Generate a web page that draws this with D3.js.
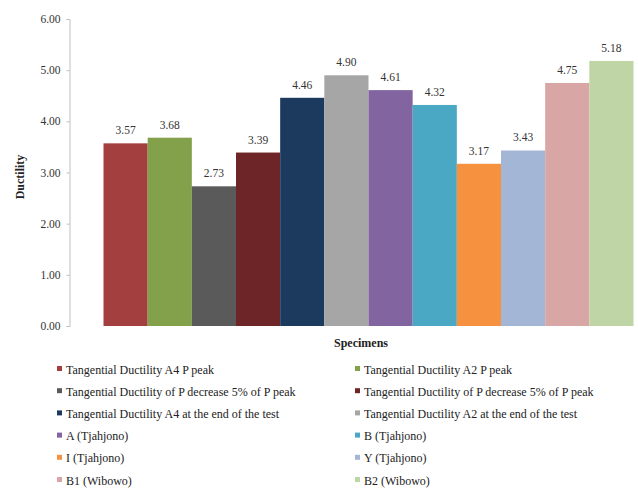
<!DOCTYPE html>
<html>
<head>
<meta charset="utf-8">
<script src="https://cdn.jsdelivr.net/npm/d3@7"></script>
</head>
<body style="margin:0">
<svg id="chart" width="638" height="491" style="display:block;background:#ffffff"></svg>
<script>
// Ductility per specimen
const specimens = [
  "Tangential Ductility A4 P peak",
  "Tangential Ductility A2 P peak",
  "Tangential Ductility of P decrease 5% of P peak",
  "Tangential Ductility of P decrease 5% of P peak ",
  "Tangential Ductility A4 at the end of the test",
  "Tangential Ductility A2 at the end of the test",
  "A (Tjahjono)",
  "B (Tjahjono)",
  "I (Tjahjono)",
  "Y (Tjahjono)",
  "B1 (Wibowo)",
  "B2 (Wibowo)"
];
const ductility = [3.57, 3.68, 2.73, 3.39, 4.46, 4.90, 4.61, 4.32, 3.17, 3.43, 4.75, 5.18];
const colors = [
  "#A3403F", "#82A14A", "#5A5A5A", "#6E2527", "#1C3A5E", "#A6A6A6",
  "#8264A0", "#4AA8C4", "#F6913F", "#A3B6D6", "#D9A6A6", "#C0D5A6"
];
const yTicks = [0, 1, 2, 3, 4, 5, 6];

const FONT = "'Liberation Serif'";
const BASE = 14; // text is laid out at 14px and scaled down to its drawn size
const svg = d3.select("#chart");

const x = d3.scaleBand().domain(d3.range(specimens.length)).range([103.5, 633.5]).paddingInner(0).paddingOuter(0);
const y = d3.scaleLinear().domain([0, 6]).range([326, 19]);

// Y axis: line and ticks from d3.axisLeft, labels drawn separately
const yAxis = d3.axisLeft(y).tickValues(yTicks).tickSize(3).tickFormat("");
const gy = svg.append("g").attr("transform", "translate(69.5,0)").call(yAxis);
gy.select(".domain").attr("stroke", "#bfbfbf");
gy.selectAll(".tick line").attr("stroke", "#bfbfbf");

svg.append("g").selectAll("g")
  .data(yTicks)
  .join("g")
  .attr("transform", d => `translate(60.5,${y(d) + 4}) scale(${11.5 / BASE})`)
  .append("text")
  .attr("font-family", FONT)
  .attr("font-size", BASE)
  .attr("text-anchor", "end")
  .attr("fill", "#333")
  .text(d => d.toFixed(2));

// Bars
svg.append("g").selectAll("rect")
  .data(ductility)
  .join("rect")
  .attr("x", (d, i) => x(i))
  .attr("width", x.bandwidth())
  .attr("y", d => y(d))
  .attr("height", d => y(0) - y(d))
  .attr("fill", (d, i) => colors[i]);

// Value labels
svg.append("g").selectAll("g")
  .data(ductility)
  .join("g")
  .attr("transform", (d, i) => `translate(${x(i) + x.bandwidth() / 2},${y(d) - 9}) scale(${11.5 / BASE})`)
  .append("text")
  .attr("font-family", FONT)
  .attr("font-size", BASE)
  .attr("text-anchor", "middle")
  .attr("fill", "#333")
  .text(d => d.toFixed(2));

// Axis titles
svg.append("g")
  .attr("transform", `translate(24,177) rotate(-90) scale(${12 / BASE})`)
  .append("text")
  .attr("text-anchor", "middle")
  .attr("font-family", FONT)
  .attr("font-size", BASE)
  .attr("font-weight", "bold")
  .attr("fill", "#222")
  .text("Ductility");

svg.append("g")
  .attr("transform", `translate(361,347) scale(${12 / BASE})`)
  .append("text")
  .attr("text-anchor", "middle")
  .attr("font-family", FONT)
  .attr("font-size", BASE)
  .attr("font-weight", "bold")
  .attr("fill", "#222")
  .text("Specimens");

// Legend in two columns
const colX = [57, 355];
const rowY0 = 369, rowStep = 22.2;
const items = svg.append("g").selectAll("g")
  .data(specimens)
  .join("g")
  .attr("transform", (d, i) => `translate(${colX[i % 2]},${rowY0 + Math.floor(i / 2) * rowStep})`);
items.append("rect")
  .attr("x", 0).attr("y", -3).attr("width", 5).attr("height", 5)
  .attr("fill", (d, i) => colors[i]);
items.append("g")
  .attr("transform", `translate(9,4.5) scale(${12 / BASE})`)
  .append("text")
  .attr("font-family", FONT)
  .attr("font-size", BASE)
  .attr("fill", "#222")
  .text(d => d.trim());
</script>
</body>
</html>
